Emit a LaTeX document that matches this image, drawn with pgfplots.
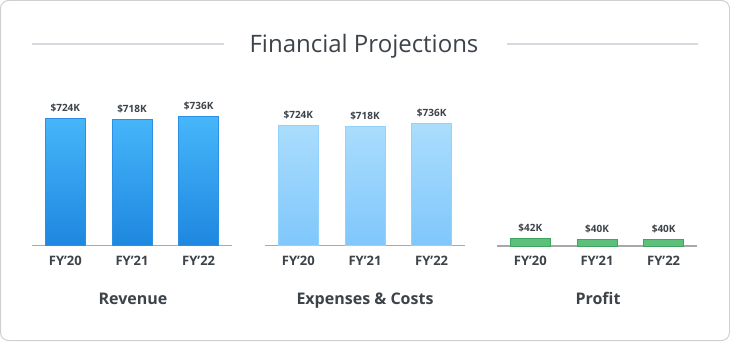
\documentclass[border=0pt]{standalone}
\usepackage{fontspec}
\setmainfont{Open Sans}
\usepackage{pgfplots}
\pgfplotsset{compat=1.18}
\definecolor{cardborder}{HTML}{D0D0D0}
\definecolor{titleline}{HTML}{D6D9DD}
\definecolor{textdark}{HTML}{3D4349}
\definecolor{axisgray}{HTML}{A9A9A9}
\definecolor{revtop}{HTML}{47B6FA}
\definecolor{revbot}{HTML}{1E87E0}
\definecolor{revdraw}{HTML}{2B8FE3}
\definecolor{exptop}{HTML}{ABDDFD}
\definecolor{expbot}{HTML}{7FC7FB}
\definecolor{expdraw}{HTML}{93D2FC}
\definecolor{proffill}{HTML}{5CBF7A}
\definecolor{profdraw}{HTML}{3DA55D}
\pgfplotsset{fin/.style={
  scale only axis, width=200pt, height=150pt,
  xmin=-0.5, xmax=2.5, ymin=0,
  axis x line*=bottom, axis y line=none,
  xtick={0,1,2}, xticklabels={FY’20,FY’21,FY’22},
  major tick length=0pt,
  /pgf/number format/assume math mode=true,
  x axis line style={draw=axisgray, line width=1.5pt, -},
  xticklabel style={anchor=base, inner sep=0pt, yshift=-19.7pt, text=textdark, font=\bfseries\fontsize{13}{15}\selectfont},
  ytick=\empty,
  bar width=40pt,
  clip=false,
  nodes near coords={\$\pgfmathprintnumber{\pgfplotspointmeta}K},
  every node near coord/.append style={anchor=base, inner sep=0pt, yshift=7pt, text=textdark, font=\bfseries\fontsize{10}{12}\selectfont},
}}
\begin{document}
\begin{tikzpicture}[x=1pt,y=1pt]
\useasboundingbox (0,0) rectangle (730,341);
\draw[cardborder, line width=1pt, rounded corners=8pt, fill=white] (0.5,0.5) rectangle (729.5,340.5);
\draw[titleline, line width=1.5pt] (32,297) -- (224,297);
\draw[titleline, line width=1.5pt] (507,297) -- (698,297);
\node[anchor=base, inner sep=0pt, text=textdark, font=\fontsize{24}{28}\selectfont] at (364,288.3) {Financial Projections};

\begin{axis}[fin, at={(32pt,95.7pt)}, anchor=south west, ymax=857]
\addplot[ybar, draw=revdraw, line width=1pt, top color=revtop, bottom color=revbot] coordinates {(0,724) (1,718) (2,736)};
\end{axis}
\begin{axis}[fin, at={(265pt,95.7pt)}, anchor=south west, ymax=910]
\addplot[ybar, draw=expdraw, line width=1pt, top color=exptop, bottom color=expbot] coordinates {(0,724) (1,718) (2,736)};
\end{axis}
\begin{axis}[fin, at={(497pt,95pt)}, anchor=south west, ymax=857]
\addplot[ybar, draw=profdraw, line width=1pt, fill=proffill] coordinates {(0,42) (1,40) (2,40)};
\end{axis}

\node[anchor=base, inner sep=0pt, text=textdark, font=\bfseries\fontsize{16}{19}\selectfont] at (133,37) {Revenue};
\node[anchor=base, inner sep=0pt, text=textdark, font=\bfseries\fontsize{16}{19}\selectfont] at (365,37) {Expenses \& Costs};
\node[anchor=base, inner sep=0pt, text=textdark, font=\bfseries\fontsize{16}{19}\selectfont] at (598,37) {Profit};
\end{tikzpicture}
\end{document}
